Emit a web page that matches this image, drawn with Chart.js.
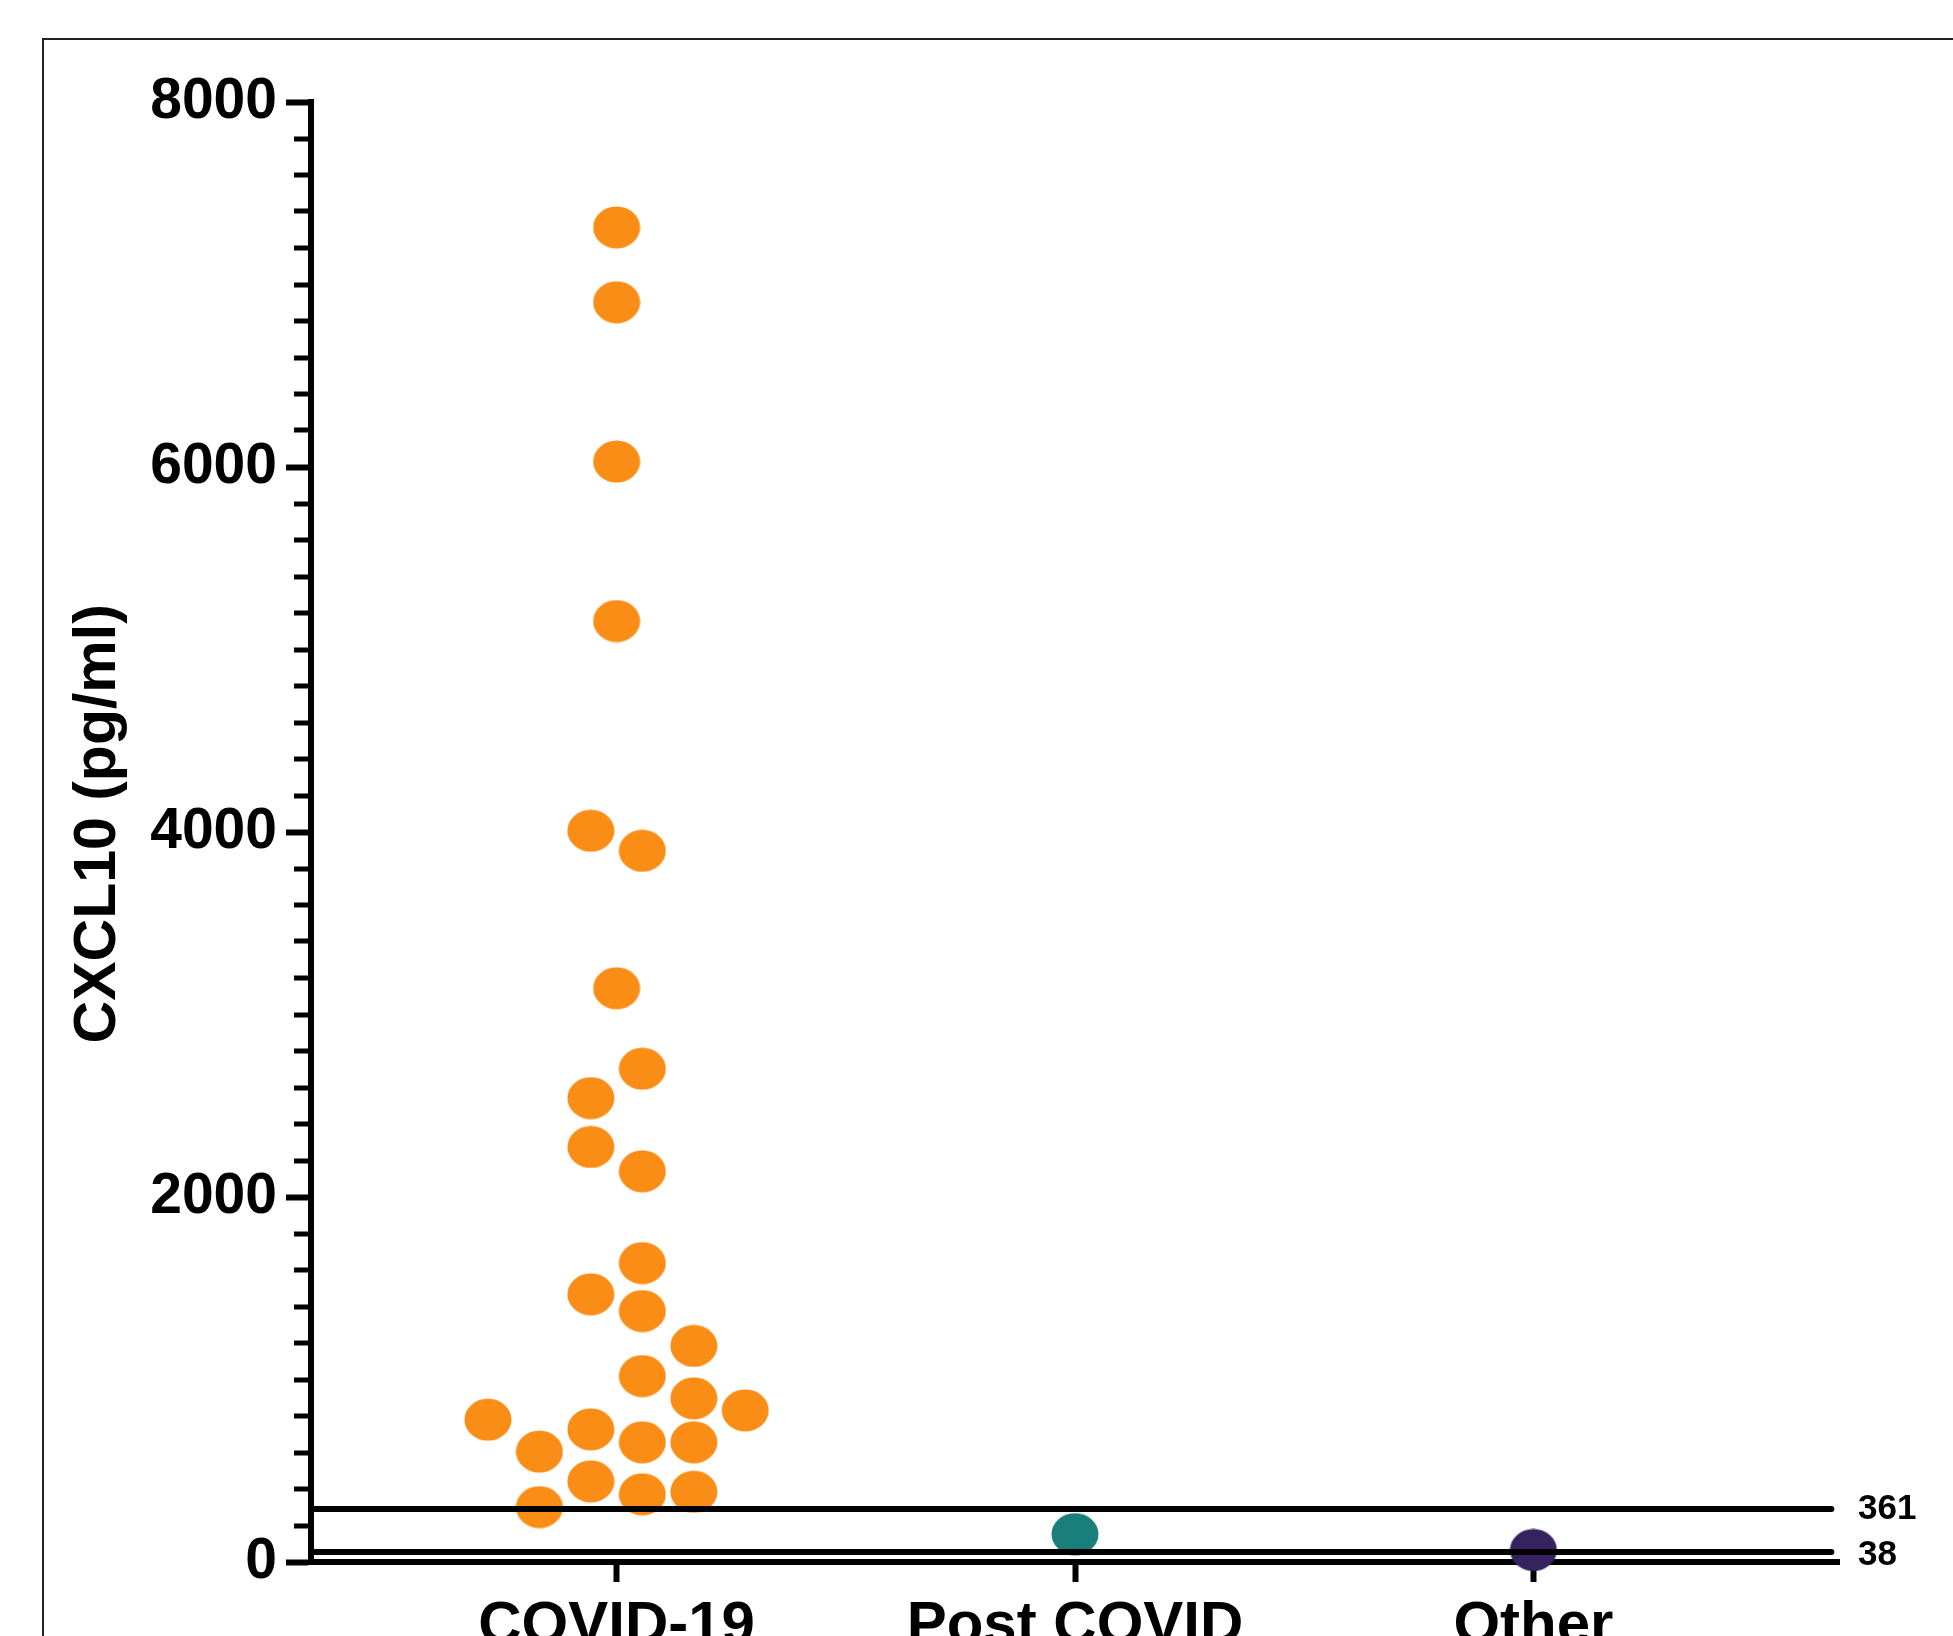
<!DOCTYPE html>
<html>
<head>
<meta charset="utf-8">
<script src="https://cdn.jsdelivr.net/npm/chart.js@4/dist/chart.umd.min.js"></script>
<style>
 html, body { margin: 0; padding: 0; background: #fff; overflow: hidden; }
 #chart { display: block; }
</style>
</head>
<body>
<canvas id="chart" width="1953" height="1700"></canvas>
<script>
var categories = ["COVID-19", "Post COVID", "Other"];

var covidValues = [7313, 6903, 6030, 5156, 4007, 3897, 3144, 2703, 2542, 2274, 2141,
 1638, 1467, 1375, 1184, 1019, 897, 831, 780, 727, 605, 656, 656, 442, 301, 371, 385];
// beeswarm column of each covid point, in dot widths from the category centre
var covidColumns = [0, 0, 0, 0, -0.5, 0.5, 0, 0.5, -0.5, -0.5, 0.5,
 0.5, -0.5, 0.5, 1.5, 0.5, 1.5, 2.5, -2.5, -0.5, -1.5, 0.5, 1.5, -0.5, -1.5, 0.5, 1.5];
var postCovidValues = [153];
var otherValues = [66];

var cutoffValues = [290, 55];
var cutoffLabels = ["361", "38"];

var yTicks = [0, 2000, 4000, 6000, 8000];
var yMinorStep = 200;

var xMin = 1 / 3;
var xMax = 11 / 3;
var dotStep = 0.1123; // one dot width in x units

var colors = {
 covid: "#F98D16",
 post: "#1A7F7B",
 other: "#35235F",
};

function ellipseDot(color) {
 var c = document.createElement("canvas");
 c.width = 48;
 c.height = 43;
 var g = c.getContext("2d");
 g.fillStyle = color;
 g.beginPath();
 g.ellipse(24, 21.5, 23.5, 21, 0, 0, Math.PI * 2);
 g.fill();
 return c;
}

var frame = {
 id: "frame",
 beforeDraw: function (chart) {
  var ctx = chart.ctx;
  ctx.save();
  ctx.strokeStyle = "#222";
  ctx.lineWidth = 2;
  ctx.strokeRect(43, 39, 3000, 3000);
  ctx.restore();
 },
};

// short minor ticks on the y axis, and the cut-off labels at the right
var extras = {
 id: "extras",
 afterDraw: function (chart) {
  var ctx = chart.ctx;
  var y = chart.scales.y;
  var area = chart.chartArea;
  ctx.save();
  ctx.strokeStyle = "#000";
  ctx.lineWidth = 5;
  for (var v = yMinorStep; v < yTicks[yTicks.length - 1]; v += yMinorStep) {
   if (yTicks.indexOf(v) >= 0) continue;
   var py = Math.round(y.getPixelForValue(v));
   ctx.beginPath();
   ctx.moveTo(area.left - 17, py);
   ctx.lineTo(area.left, py);
   ctx.stroke();
  }
  ctx.fillStyle = "#000";
  ctx.font = "bold 35px 'Liberation Sans', Arial, sans-serif";
  ctx.textBaseline = "middle";
  ctx.textAlign = "left";
  for (var i = 0; i < cutoffValues.length; i++) {
   var ly = y.getPixelForValue(cutoffValues[i]);
   if (i == 1) ly += 3;
   ctx.fillText(cutoffLabels[i], area.right + 19, ly);
  }
  ctx.restore();
 },
};

var datasets = cutoffValues.map(function (v) {
 return {
  type: "line",
  data: [{ x: xMin, y: v }, { x: 3.65, y: v }],
  borderColor: "#000",
  borderWidth: 6,
  borderCapStyle: "round",
  pointRadius: 0,
  clip: false,
  order: 0,
 };
});

datasets.push({
 label: categories[0],
 data: covidValues.map(function (v, i) {
  return { x: 1 + covidColumns[i] * dotStep, y: v };
 }),
 pointStyle: ellipseDot(colors.covid),
 pointRadius: 24,
 clip: false,
 order: 1,
});
datasets.push({
 label: categories[1],
 data: postCovidValues.map(function (v) {
  return { x: 2, y: v };
 }),
 pointStyle: ellipseDot(colors.post),
 pointRadius: 24,
 clip: false,
 order: 1,
});
datasets.push({
 label: categories[2],
 data: otherValues.map(function (v) {
  return { x: 3, y: v };
 }),
 pointStyle: ellipseDot(colors.other),
 pointRadius: 24,
 clip: false,
 order: 1,
});

var font = "'Liberation Sans', Arial, sans-serif";

new Chart(document.getElementById("chart"), {
 type: "scatter",
 data: { datasets: datasets },
 plugins: [frame, extras],
 options: {
  responsive: false,
  animation: false,
  devicePixelRatio: 1,
  layout: { padding: { left: 0, top: 102, right: 114, bottom: 0 } },
  plugins: { legend: { display: false }, tooltip: { enabled: false } },
  scales: {
   x: {
    type: "linear",
    min: xMin,
    max: xMax,
    afterBuildTicks: function (scale) {
     scale.ticks = categories.map(function (c, i) {
      return { value: i + 1 };
     });
    },
    afterFit: function (scale) {
     scale.height = 1700 - 1562;
    },
    ticks: {
     autoSkip: false,
     maxRotation: 0,
     padding: 8,
     color: "#000",
     font: { family: font, size: 60, weight: "bold" },
     callback: function (value, index) {
      return categories[index];
     },
    },
    grid: {
     drawOnChartArea: false,
     drawTicks: true,
     tickLength: 20,
     tickWidth: 6,
     color: "#000",
    },
    border: { display: true, width: 6, color: "#000" },
   },
   y: {
    min: yTicks[0],
    max: yTicks[yTicks.length - 1],
    afterBuildTicks: function (scale) {
     scale.ticks = yTicks.map(function (v) {
      return { value: v };
     });
    },
    afterFit: function (scale) {
     scale.width = 311;
    },
    ticks: {
     padding: 9,
     color: "#000",
     font: { family: font, size: 57, weight: "bold" },
     callback: function (value) {
      return String(value);
     },
    },
    grid: {
     drawOnChartArea: false,
     drawTicks: true,
     tickLength: 25,
     tickWidth: 6,
     color: "#000",
    },
    border: { display: true, width: 6, color: "#000" },
    title: {
     display: true,
     text: " CXCL10 (pg/ml)",
     color: "#000",
     padding: { top: 63, bottom: 0 },
     font: { family: font, size: 59, weight: "bold" },
    },
   },
  },
 },
});
</script>
</body>
</html>
